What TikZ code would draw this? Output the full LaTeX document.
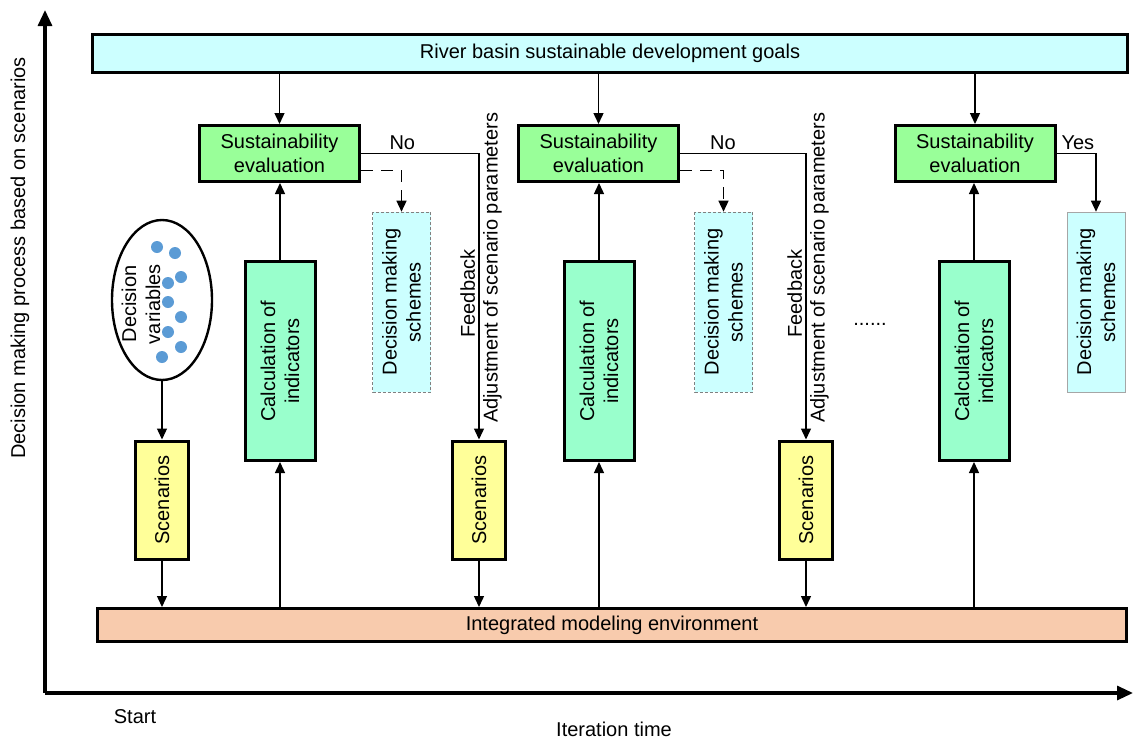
\documentclass[tikz,border=0pt]{standalone}
\usepackage{fontspec}
\setmainfont{Liberation Sans}
\usetikzlibrary{arrows.meta}
\usetikzlibrary{shapes.geometric}

\definecolor{goalcyan}{RGB}{204,255,255}
\definecolor{evalgreen}{RGB}{153,255,153}
\definecolor{calcmint}{RGB}{153,255,204}
\definecolor{scenyellow}{RGB}{255,255,153}
\definecolor{envpeach}{RGB}{248,203,173}
\definecolor{dotblue}{RGB}{91,155,213}

\tikzset{
  box/.style={draw, line width=3pt, inner sep=0pt, align=center},
  goalbox/.style={box, fill=goalcyan, minimum width=1035, minimum height=38},
  envbox/.style={box, fill=envpeach, minimum width=1029, minimum height=33},
  evalbox/.style={box, fill=evalgreen, minimum width=160, minimum height=56},
  calcbox/.style={box, fill=calcmint, rotate=90, minimum width=199, minimum height=70},
  scenbox/.style={box, fill=scenyellow, rotate=90, minimum width=118, minimum height=53},
  schemebox/.style={draw=gray, line width=0.6pt, fill=goalcyan, inner sep=0pt, align=center,
    rotate=90, minimum width=180, minimum height=58},
  arr/.style={line width=1.4pt, -{Triangle[length=11pt,width=10pt]}},
  axisarr/.style={line width=3.2pt, -{Triangle[length=16pt,width=14pt]}}
}

\begin{document}
\begin{tikzpicture}[x=1pt, y=-1pt, font=\fontsize{20}{24}\selectfont]
  \useasboundingbox (0,0) rectangle (1133,742);

  % axes
  \coordinate (o) at (45,693);
  \coordinate (ytip) at (45,10);
  \coordinate (xtip) at (1133,693);
  \draw[axisarr] (o) -- (ytip);
  \draw[axisarr] (o) -- (xtip);
  \node[rotate=90] (ylab) at (20,258) {Decision making process based on scenarios};
  \node (start) at (135,717) {Start};
  \node (xlab) at (614,729) {Iteration time};

  % goals and modelling environment
  \node[goalbox] (goal) at (610,53.5) {River basin sustainable development goals};
  \node[envbox] (env) at (612,625) {Integrated modeling environment};

  % iteration 1
  \node[ellipse, draw, line width=2.4pt, minimum width=100, minimum height=160] (dv) at (162,300) {};
  \node[rotate=90, align=center] (dvtext) at (141,304) {Decision\\variables};
  \foreach \x/\y in {157/247, 175/253, 168/283, 181/277, 168/302, 181/317, 168/332, 181/347, 162/357}
    \fill[dotblue] (\x,\y) circle (6pt);
  \node[evalbox] (eval1) at (279.5,153.5) {Sustainability\\evaluation};
  \node[calcbox] (calc1) at (280,361) {Calculation of\\indicators};
  \node[scenbox] (scen1) at (162,500) {Scenarios};
  \node[schemebox, densely dashed] (dms1) at (401.5,302) {Decision making\\schemes};

  % iteration 2
  \node[evalbox] (eval2) at (598.5,153.5) {Sustainability\\evaluation};
  \node[calcbox] (calc2) at (599,361) {Calculation of\\indicators};
  \node[scenbox] (scen2) at (479,500) {Scenarios};
  \node[schemebox, densely dashed] (dms2) at (723.5,302) {Decision making\\schemes};

  % last iteration
  \node (more) at (870,324) {......};
  \node[evalbox] (eval3) at (975,153.5) {Sustainability\\evaluation};
  \node[calcbox] (calc3) at (974,361) {Calculation of\\indicators};
  \node[scenbox] (scen3) at (806,500) {Scenarios};
  \node[schemebox, draw=gray!70] (dms3) at (1096,302) {Decision making\\schemes};

  % flows
  \draw[arr] (dv) -- (scen1.east);
  \foreach \i in {1,2,3} {
    \draw[arr] (goal.south -| eval\i.north) -- (eval\i.north);
    \draw[arr] (calc\i.east) -- (calc\i.east |- eval\i.south);
    \draw[arr] (env.north -| calc\i.west) -- (calc\i.west);
    \draw[arr] (scen\i.west) -- (scen\i.west |- env.north);
  }

  % feedback loops
  \draw[arr] (eval1.east) -| node[pos=.175, above] {No}
    node[pos=.745, rotate=90, above] {Feedback}
    node[pos=.70, rotate=90, below] {Adjustment of scenario parameters} (scen2.east);
  \draw[arr] (eval2.east) -| node[pos=.17, above] {No}
    node[pos=.745, rotate=90, above] {Feedback}
    node[pos=.70, rotate=90, below] {Adjustment of scenario parameters} (scen3.east);
  \draw[arr, dash pattern=on 12pt off 8pt] ([yshift=-17pt]eval1.east) -| (dms1.east);
  \draw[arr, dash pattern=on 12pt off 8pt] ([yshift=-17pt]eval2.east) -| (dms2.east);
  \draw[arr] (eval3.east) -| node[pos=.27, above] {Yes} (dms3.east);
\end{tikzpicture}
\end{document}
